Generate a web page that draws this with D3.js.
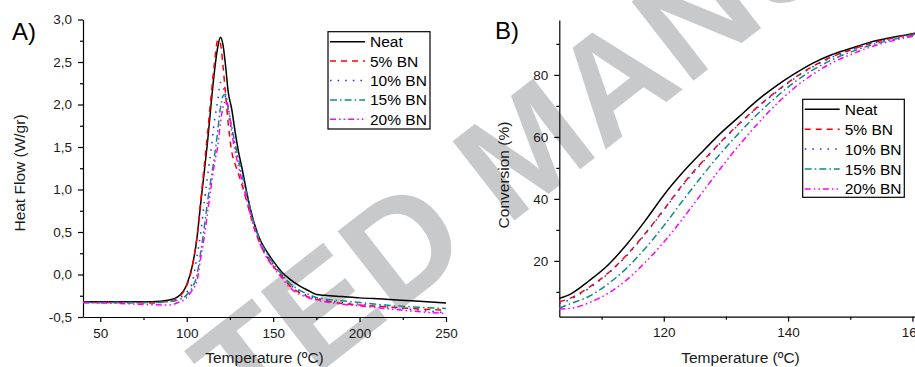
<!DOCTYPE html>
<head>
  <meta charset="utf-8">
  <style>
    body { margin:0; background:#fff; }
    svg { display:block; font-family:"Liberation Sans", Arial, sans-serif; }
    .axis path, .axis line { stroke:#000; stroke-width:1.2; }
    .axis text { font-size:13.5px; fill:#1a1a1a; font-family:"Liberation Sans", Arial, sans-serif; }
    .title { font-size:15.5px; fill:#1a1a1a; }
    .panel { font-size:24px; fill:#000; }
    .legend text { font-size:15.5px; fill:#000; }
    .curve { fill:none; stroke-width:1.5; }
    #watermark { font-size:146px; font-weight:bold; fill:#c8c9cb; }
  </style>
</head>

<body>

  <script src="https://cdn.jsdelivr.net/npm/d3@7"></script>

  <script>

    // DATA - panel A (DSC heat flow)
    const tempA = [40, 60, 80, 90, 95, 100, 103, 106, 108, 110, 112, 114, 116, 118, 119.5, 121, 122.5, 124,
                   126, 128, 130, 132, 135, 138, 142, 146, 150, 155, 160, 165, 170, 175, 180, 190, 200, 215, 230, 250];
    const neatA = [-0.32, -0.32, -0.32, -0.30, -0.26, -0.12, 0.08, 0.44, 0.82, 1.18, 1.55, 1.98, 2.38, 2.68, 2.79, 2.70, 2.45, 2.15,
                   1.95, 1.68, 1.44, 1.25, 0.94, 0.68, 0.43, 0.28, 0.16, 0.03, -0.06, -0.13, -0.185, -0.235, -0.245, -0.26, -0.275, -0.29, -0.31, -0.335];
    const bn5A  = [-0.33, -0.33, -0.335, -0.31, -0.27, -0.13, 0.07, 0.45, 0.85, 1.25, 1.65, 2.08, 2.48, 2.76, 2.72, 2.45, 2.12, 1.78,
                   1.45, 1.30, 1.18, 1.05, 0.84, 0.62, 0.38, 0.22, 0.10, -0.02, -0.14, -0.21, -0.26, -0.29, -0.31, -0.34, -0.36, -0.38, -0.40, -0.42];
    const bn10A = [-0.33, -0.33, -0.33, -0.31, -0.28, -0.21, -0.11, 0.22, 0.48, 0.82, 1.15, 1.45, 1.80, 2.05, 2.26, 2.22, 2.08, 1.90,
                   1.70, 1.51, 1.33, 1.16, 0.91, 0.66, 0.40, 0.24, 0.12, 0.0, -0.12, -0.20, -0.25, -0.28, -0.30, -0.33, -0.35, -0.38, -0.41, -0.45];
    const bn15A = [-0.33, -0.33, -0.33, -0.32, -0.30, -0.24, -0.16, 0.0, 0.25, 0.53, 0.85, 1.12, 1.38, 1.70, 1.96, 2.10, 2.12, 1.95,
                   1.74, 1.54, 1.36, 1.18, 0.92, 0.67, 0.42, 0.26, 0.13, 0.0, -0.11, -0.18, -0.23, -0.27, -0.29, -0.31, -0.33, -0.36, -0.38, -0.40];
    const bn20A = [-0.33, -0.34, -0.355, -0.36, -0.33, -0.27, -0.19, -0.07, 0.18, 0.42, 0.72, 1.02, 1.30, 1.52, 1.78, 1.97, 2.04, 1.98,
                   1.68, 1.45, 1.27, 1.10, 0.86, 0.62, 0.38, 0.21, 0.09, -0.04, -0.16, -0.23, -0.27, -0.30, -0.32, -0.35, -0.37, -0.40, -0.43, -0.46];

    // DATA - panel B (conversion)
    const tempB = [103.2, 105, 108, 111, 114, 117, 120, 123, 126, 129, 132, 135, 138, 141, 144, 147, 150, 153, 156, 159, 162, 165];
    const neatB = [7.9, 9.3, 13.6, 18.6, 25.2, 32.9, 41.2, 48.4, 54.8, 60.9, 66.3, 71.7, 76.3, 80.3, 83.8, 86.5, 88.5, 90.4, 91.8, 92.9, 93.9, 94.7];
    const bn5B  = [6.8, 8.0, 11.5, 16.0, 21.8, 28.8, 36.5, 44.5, 51.5, 58.0, 64.0, 69.5, 74.5, 79.0, 82.8, 85.8, 88.0, 90.0, 91.5, 92.8, 93.8, 94.6];
    const bn10B = [6.2, 7.6, 11.2, 15.8, 21.6, 28.6, 36.3, 44.2, 51.2, 57.8, 63.8, 69.3, 74.3, 78.8, 82.6, 85.6, 87.9, 89.9, 91.4, 92.7, 93.7, 94.5];
    const bn15B = [4.8, 6.2, 8.6, 12.5, 17.6, 24.0, 31.3, 39.3, 47.0, 54.3, 61.0, 67.2, 72.7, 77.6, 81.6, 84.8, 87.3, 89.4, 91.0, 92.4, 93.5, 94.4];
    const bn20B = [4.5, 4.7, 6.5, 9.5, 13.8, 19.5, 26.0, 33.5, 41.5, 49.5, 57.0, 64.0, 70.3, 75.8, 80.2, 83.8, 86.5, 88.8, 90.6, 92.0, 93.2, 94.2];

    const seriesNames = ["Neat", "5% BN", "10% BN", "15% BN", "20% BN"];

    // TICKS
    const xMajorA = [50, 100, 150, 200, 250],
          xMinorA = [75, 125, 175, 225],
          yMajorA = [-0.5, 0, 0.5, 1.0, 1.5, 2.0, 2.5, 3.0],
          yMinorA = [-0.25, 0.25, 0.75, 1.25, 1.75, 2.25, 2.75];
    const xMajorB = [120, 140, 160],
          xMinorB = [110, 130, 150, 170],
          yMajorB = [20, 40, 60, 80],
          yMinorB = [10, 30, 50, 70, 90];

    // STYLES
    const colors = ["#000000", "#ff0000", "#2f2fff", "#128a84", "#ff00ff"];
    const dashes = [null, "6,5", "1.6,6", "7,3,1.6,3", "6,3,1.6,3,1.6,3"];

    let width = 915, height = 367;

    var svg = d3.select("body").append("svg")
      .attr("width", width)
      .attr("height", height);

    // WATERMARK
    svg.append("text")
      .attr("id", "watermark")
      .attr("transform", "translate(-158,746) rotate(-38)")
      .text("ACCEPTED MANUSCRIPT");

    const fmtA = d => d3.format(".1f")(d).replace(".", ",").replace("\u2212", "-");

    // SCALES
    var xA = d3.scaleLinear().domain([40, 250]).range([83, 446]),
        yA = d3.scaleLinear().domain([-0.5, 3.0]).range([317, 19.5]);
    var xB = d3.scaleLinear().domain([103.2, 170]).range([559.3, 559.3 + 66.8 * 6.217]),
        yB = d3.scaleLinear().domain([2, 97.7]).range([316.7, 20]);

    function drawAxes(x, y, xMaj, xMin, yMaj, yMin, fmt) {
      let y0 = y.range()[0], x0 = x.range()[0];
      svg.append("g").attr("class", "axis")
        .attr("transform", "translate(0," + y0 + ")")
        .call(d3.axisBottom(x).tickValues(xMin).tickSize(3).tickSizeOuter(0).tickFormat(""))
        .select(".domain").remove();
      svg.append("g").attr("class", "axis")
        .attr("transform", "translate(" + x0 + ",0)")
        .call(d3.axisLeft(y).tickValues(yMin).tickSize(3).tickSizeOuter(0).tickFormat(""))
        .select(".domain").remove();
      svg.append("g").attr("class", "axis")
        .attr("transform", "translate(0," + y0 + ")")
        .call(d3.axisBottom(x).tickValues(xMaj).tickSize(5).tickSizeOuter(0).tickPadding(6).tickFormat(d3.format("d")));
      svg.append("g").attr("class", "axis")
        .attr("transform", "translate(" + x0 + ",0)")
        .call(d3.axisLeft(y).tickValues(yMaj).tickSize(5).tickSizeOuter(0).tickPadding(6).tickFormat(fmt));
    }

    drawAxes(xA, yA, xMajorA, xMinorA, yMajorA, yMinorA, fmtA);
    drawAxes(xB, yB, xMajorB, xMinorB, yMajorB, yMinorB, d3.format("d"));

    // CURVES
    function drawCurves(x, y, temps, series) {
      var line = d3.line()
        .x((d, i) => x(temps[i]))
        .y(d => y(d))
        .curve(d3.curveMonotoneX);
      series.forEach((s, i) => {
        svg.append("path")
          .attr("class", "curve")
          .attr("d", line(s))
          .style("stroke", colors[i])
          .style("stroke-dasharray", dashes[i]);
      });
    }

    drawCurves(xA, yA, tempA, [neatA, bn5A, bn10A, bn15A, bn20A]);
    drawCurves(xB, yB, tempB, [neatB, bn5B, bn10B, bn15B, bn20B]);

    // LEGENDS
    function drawLegend(bx, by, bw, bh, first, step) {
      var g = svg.append("g").attr("class", "legend");
      g.append("rect")
        .attr("x", bx).attr("y", by).attr("width", bw).attr("height", bh)
        .style("fill", "none").style("stroke", "#000").style("stroke-width", 1.2);
      seriesNames.forEach((name, i) => {
        let cy = first + i * step;
        g.append("line")
          .attr("x1", bx + 2).attr("x2", bx + 37)
          .attr("y1", cy).attr("y2", cy)
          .style("stroke", colors[i]).style("stroke-width", 1.5)
          .style("stroke-dasharray", dashes[i]);
        g.append("text")
          .attr("x", bx + 42).attr("y", cy + 5.5)
          .text(name);
      });
    }

    drawLegend(328, 31.7, 102, 97.3, 41.7, 19.4);
    drawLegend(802.7, 99.3, 101.6, 98, 109.3, 19.9);

    // TITLES
    svg.append("text").attr("class", "panel").attr("x", 12).attr("y", 39.5).text("A)");
    svg.append("text").attr("class", "panel").attr("x", 495).attr("y", 38.5).text("B)");

    svg.append("text").attr("class", "title")
      .attr("x", 264.5).attr("y", 363).style("text-anchor", "middle")
      .text("Temperature (\u00baC)");
    svg.append("text").attr("class", "title")
      .attr("x", 740.5).attr("y", 363).style("text-anchor", "middle")
      .text("Temperature (\u00baC)");
    svg.append("text").attr("class", "title")
      .attr("transform", "translate(25,173) rotate(-90)").style("text-anchor", "middle")
      .text("Heat Flow (W/gr)");
    svg.append("text").attr("class", "title")
      .attr("transform", "translate(509,175) rotate(-90)").style("text-anchor", "middle")
      .text("Conversion (%)");

  </script>
</body>
